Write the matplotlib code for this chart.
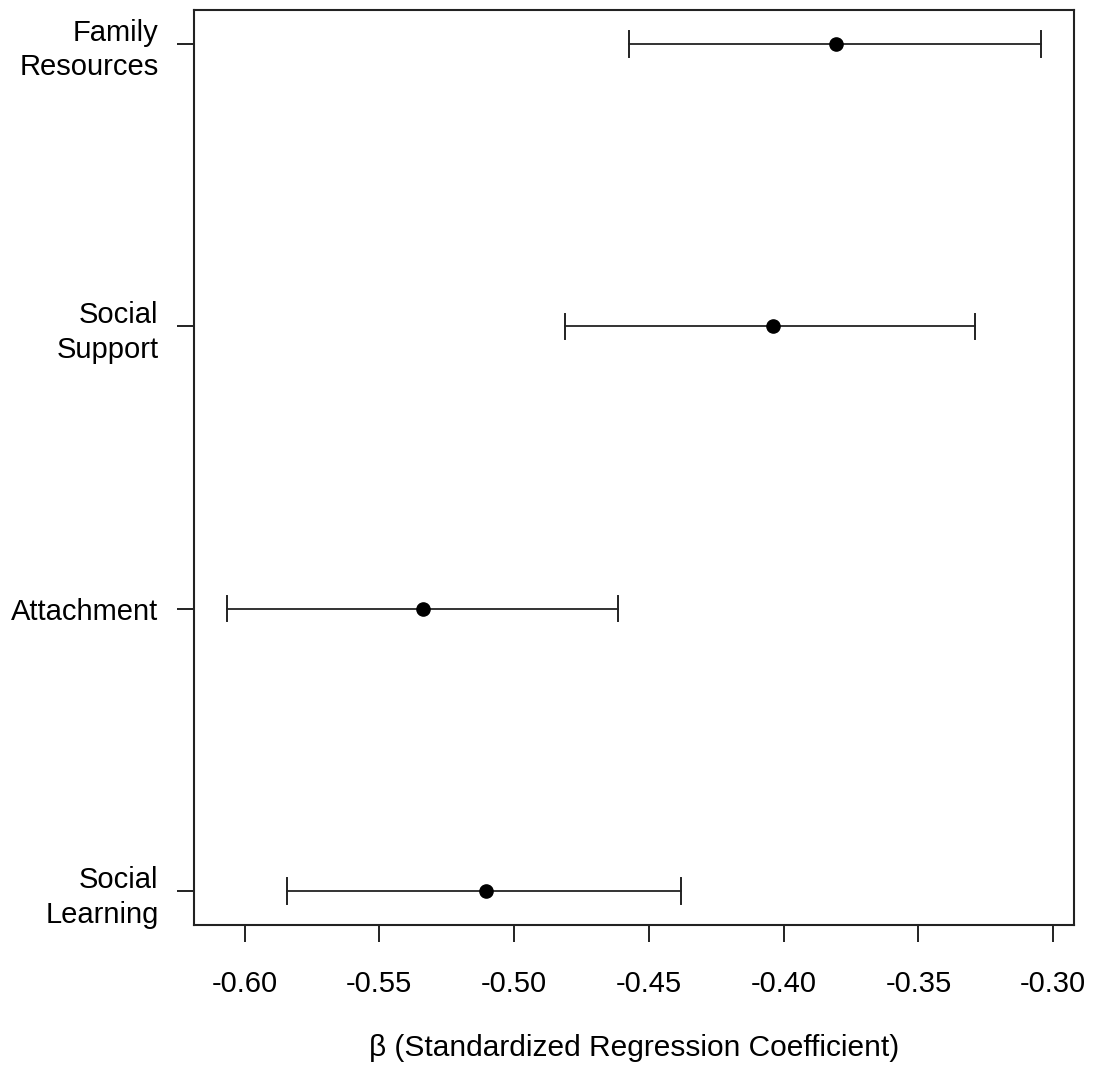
import matplotlib
matplotlib.use("Agg")
import matplotlib.pyplot as plt

# --- data ---
labels = ["Social\nLearning", "Attachment", "Social\nSupport", "Family\nResources"]
beta = [-0.5105, -0.534, -0.404, -0.3805]
ci_low = [-0.5844, -0.6067, -0.4812, -0.4574]
ci_high = [-0.4381, -0.4615, -0.3289, -0.3044]
xticks = [-0.60, -0.55, -0.50, -0.45, -0.40, -0.35, -0.30]

plt.rcParams['font.family'] = ['Liberation Sans', 'DejaVu Sans']

fig = plt.figure(figsize=(10.97, 10.65), dpi=100)
ax = fig.add_axes([0.1768, 0.1315, 0.8022, 0.8591])

ypos = list(range(1, len(labels) + 1))
cap = 0.045
for y, lo, hi in zip(ypos, ci_low, ci_high):
    ax.plot([lo, hi], [y, y], color='#333333', lw=1.4, zorder=1)
    ax.plot([lo, lo], [y - cap, y + cap], color='#222222', lw=1.4, zorder=1)
    ax.plot([hi, hi], [y - cap, y + cap], color='#222222', lw=1.4, zorder=1)
ax.plot(beta, ypos, 'o', color='black', ms=9.5, zorder=2, ls='none')

# R style 4% padding
xlo, xhi = min(ci_low), max(ci_high)
pad = (xhi - xlo) * 0.04
ax.set_xlim(xlo - pad, xhi + pad)
ax.set_ylim(1 - 0.12, len(labels) + 0.12)

ax.set_yticks(ypos)
ax.set_yticklabels(labels, fontsize=21, linespacing=1.3, ha='right')
ax.set_xticks(xticks)
ax.set_xticklabels([f"{v:.2f}" for v in xticks], fontsize=21)
ax.tick_params(axis='both', length=12.5, width=1.4, color='#222222')
ax.tick_params(axis='x', pad=20)
ax.tick_params(axis='y', pad=13)
for s in ax.spines.values():
    s.set_linewidth(1.5)
    s.set_color('#222222')

ax.set_xlabel("β (Standardized Regression Coefficient)", fontsize=21.5, labelpad=26)

fig.savefig("out.png", dpi=100)
